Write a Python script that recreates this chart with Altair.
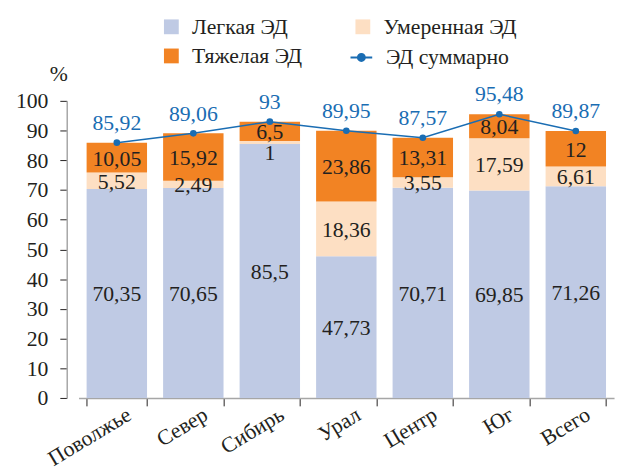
import altair as alt
import pandas as pd

categories = ["Поволжье", "Север", "Сибирь", "Урал", "Центр", "Юг", "Всего"]
series_names = ["Легкая ЭД", "Умеренная ЭД", "Тяжелая ЭД"]
total_name = "ЭД суммарно"
light = [70.35, 70.65, 85.5, 47.73, 70.71, 69.85, 71.26]
moderate = [5.52, 2.49, 1, 18.36, 3.55, 17.59, 6.61]
severe = [10.05, 15.92, 6.5, 23.86, 13.31, 8.04, 12]
total = [85.92, 89.06, 93, 89.95, 87.57, 95.48, 89.87]
y_ticks = [0, 10, 20, 30, 40, 50, 60, 70, 80, 90, 100]

FONT = "'Times New Roman', 'Liberation Serif', 'DejaVu Serif', 'Noto Serif', serif"
TXT = "#231f20"
BLUE = "#1a6db3"
GRAY = "#a6a6a6"
COLORS = ["#bfcae4", "#fddfc3", "#f28323"]

rows = []
for i, c in enumerate(categories):
    for k, (name, vals) in enumerate(zip(series_names, [light, moderate, severe])):
        rows.append({"cat": c, "series": name, "order": k, "value": vals[i]})
bars_df = pd.DataFrame(rows)
tot_df = pd.DataFrame({"cat": categories, "total": total, "s": total_name})

x_axis = alt.Axis(
    title=None, labelAngle=329, labelFont=FONT, labelFontSize=22, labelColor=TXT,
    tickBand="extent", tickSize=8, tickColor=TXT, domainColor=GRAY, domainWidth=1.5,
    labelPadding=-2, labelOffset=7, labelAlign="right", labelBaseline="top",
)
x_scale = alt.Scale(paddingInner=0.21, paddingOuter=0.105)


def X():
    return alt.X("cat:N", sort=categories, scale=x_scale, axis=x_axis)


y_scale = alt.Scale(domain=[0, 100], nice=False)
y_axis = alt.Axis(
    values=y_ticks, format="d", title="%", titleAngle=0, titleX=-8.5, titleY=-28,
    titleFont=FONT, titleFontSize=22, titleFontWeight="normal", titleColor=TXT,
    titleAlign="center", titleBaseline="middle", offset=12, tickSize=7,
    tickColor=TXT, domainColor=GRAY, domainWidth=1.5, labelPadding=12,
    labelFont=FONT, labelFontSize=22, labelColor=TXT, grid=False,
)


def Y(field):
    return alt.Y(field, scale=y_scale, axis=y_axis)


base = alt.Chart(bars_df).transform_stack(
    stack="value", groupby=["cat"], as_=["y0", "y1"],
    sort=[alt.SortField("order", order="ascending")],
).transform_calculate(
    mid="(datum.y0 + datum.y1) / 2",
    lbl="replace(toString(datum.value), '.', ',')",
)

bars = base.mark_bar().encode(
    x=X(),
    y=Y("y0:Q"),
    y2="y1:Q",
    color=alt.Color(
        "series:N",
        scale=alt.Scale(domain=series_names, range=COLORS),
        legend=alt.Legend(
            title=None, orient="none", legendX=83, legendY=-86, columns=2,
            direction="horizontal",
            symbolType="square", symbolSize=225, symbolStrokeWidth=0,
            labelFont=FONT, labelFontSize=22, labelColor=TXT, labelOffset=10,
            rowPadding=7.5, columnPadding=50, padding=0,
        ),
    ),
)

seg_text = base.transform_filter("datum.value >= 2").mark_text(
    font=FONT, fontSize=22, color=TXT, baseline="middle", dy=1
).encode(x=X(), y=Y("mid:Q"), text="lbl:N")

small_text = base.transform_filter("datum.value < 2").mark_text(
    font=FONT, fontSize=22, color=TXT, baseline="middle", dy=11
).encode(x=X(), y=Y("mid:Q"), text="lbl:N")

tot_base = alt.Chart(tot_df).transform_calculate(
    lbl="replace(toString(datum.total), '.', ',')"
)

line = tot_base.mark_line(
    strokeWidth=1.5,
    point=alt.OverlayMarkDef(filled=True, size=45),
).encode(
    x=X(),
    y=Y("total:Q"),
    color=alt.Color(
        "s:N",
        scale=alt.Scale(domain=[total_name], range=[BLUE]),
        legend=alt.Legend(
            title=None, orient="none", legendX=274.5, legendY=-56,
            symbolType="M-1,0H1M0.32,0A0.32,0.32,0,1,1,-0.32,0A0.32,0.32,0,1,1,0.32,0Z",
            symbolSize=484, symbolStrokeWidth=2, symbolFillColor=BLUE,
            symbolStrokeColor=BLUE,
            labelFont=FONT, labelFontSize=22, labelColor=TXT, labelOffset=13,
            padding=0,
        ),
    ),
)

tot_text = tot_base.mark_text(
    font=FONT, fontSize=22, color=BLUE, baseline="alphabetic", dy=-13
).encode(x=X(), y=Y("total:Q"), text="lbl:N")

chart = alt.layer(bars, seg_text, small_text, line, tot_text).resolve_scale(
    color="independent"
).properties(
    width=542.5, height=301,
    autosize=alt.AutoSizeParams(type="none"),
    padding={"left": 71.5, "top": 91, "right": 4, "bottom": 76},
).configure_view(stroke=None)

chart.save("out.html", embed_options={"renderer": "svg", "actions": False})
